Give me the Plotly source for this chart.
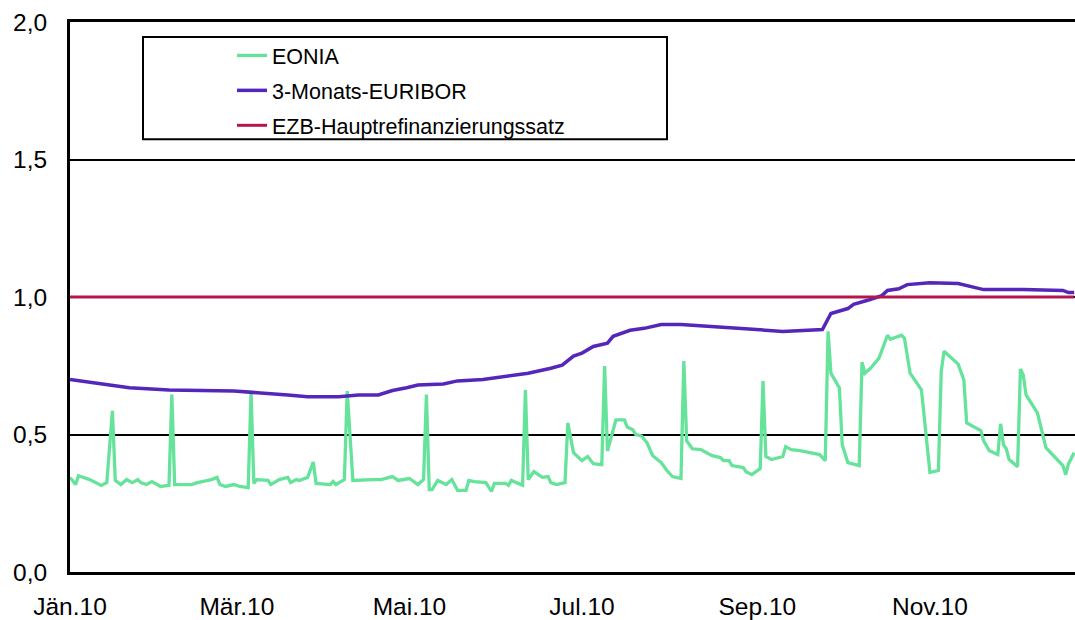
import plotly.graph_objects as go

# EONIA (daily rate, %), vertices
eonia_dates = [
    "2010-01-01", "2010-01-03", "2010-01-04", "2010-01-08", "2010-01-12", "2010-01-14", "2010-01-16",
    "2010-01-17", "2010-01-19", "2010-01-21", "2010-01-23", "2010-01-25", "2010-01-26", "2010-01-28",
    "2010-01-30", "2010-02-02", "2010-02-05", "2010-02-06", "2010-02-07", "2010-02-13", "2010-02-15",
    "2010-02-20", "2010-02-22", "2010-02-23", "2010-02-25", "2010-02-28", "2010-03-02", "2010-03-05",
    "2010-03-06", "2010-03-07", "2010-03-08", "2010-03-12", "2010-03-13", "2010-03-16", "2010-03-19",
    "2010-03-20", "2010-03-22", "2010-03-23", "2010-03-26", "2010-03-28", "2010-03-29", "2010-04-03",
    "2010-04-04", "2010-04-05", "2010-04-08", "2010-04-09", "2010-04-11", "2010-04-16", "2010-04-18",
    "2010-04-21", "2010-04-25", "2010-04-27", "2010-05-01", "2010-05-04", "2010-05-06", "2010-05-07",
    "2010-05-08", "2010-05-09", "2010-05-11", "2010-05-14", "2010-05-16", "2010-05-18", "2010-05-21",
    "2010-05-22", "2010-05-24", "2010-05-28", "2010-05-30", "2010-05-31", "2010-06-04", "2010-06-05",
    "2010-06-06", "2010-06-10", "2010-06-11", "2010-06-12", "2010-06-14", "2010-06-17", "2010-06-19",
    "2010-06-20", "2010-06-22", "2010-06-25", "2010-06-26", "2010-06-28", "2010-07-01", "2010-07-03",
    "2010-07-05", "2010-07-08", "2010-07-09", "2010-07-10", "2010-07-13", "2010-07-16", "2010-07-17",
    "2010-07-19", "2010-07-20", "2010-07-22", "2010-07-24", "2010-07-26", "2010-07-29", "2010-07-31",
    "2010-08-02", "2010-08-05", "2010-08-06", "2010-08-07", "2010-08-09", "2010-08-12", "2010-08-15",
    "2010-08-16", "2010-08-19", "2010-08-20", "2010-08-22", "2010-08-23", "2010-08-27", "2010-08-28",
    "2010-08-30", "2010-09-02", "2010-09-03", "2010-09-04", "2010-09-06", "2010-09-10", "2010-09-11",
    "2010-09-13", "2010-09-16", "2010-09-19", "2010-09-23", "2010-09-25", "2010-09-26", "2010-09-27",
    "2010-09-30", "2010-10-01", "2010-10-03", "2010-10-07", "2010-10-08", "2010-10-09", "2010-10-11",
    "2010-10-14", "2010-10-15", "2010-10-17", "2010-10-18", "2010-10-22", "2010-10-23", "2010-10-25",
    "2010-10-29", "2010-11-01", "2010-11-04", "2010-11-05", "2010-11-06", "2010-11-11", "2010-11-13",
    "2010-11-14", "2010-11-19", "2010-11-20", "2010-11-22", "2010-11-25", "2010-11-26", "2010-11-27",
    "2010-11-28", "2010-11-29", "2010-12-02", "2010-12-03", "2010-12-04", "2010-12-05", "2010-12-09",
    "2010-12-12", "2010-12-18", "2010-12-19", "2010-12-20", "2010-12-22",
]
eonia_values = [
    0.344, 0.318, 0.350, 0.336, 0.315, 0.325, 0.586,
    0.333, 0.318, 0.336, 0.325, 0.336, 0.325, 0.318,
    0.329, 0.311, 0.315, 0.645, 0.318, 0.318, 0.325,
    0.336, 0.344, 0.318, 0.311, 0.318, 0.311, 0.307,
    0.655, 0.322, 0.336, 0.333, 0.318, 0.336, 0.344,
    0.325, 0.336, 0.333, 0.344, 0.400, 0.322, 0.318,
    0.329, 0.318, 0.336, 0.658, 0.333, 0.336, 0.336,
    0.336, 0.347, 0.333, 0.340, 0.318, 0.336, 0.645,
    0.300, 0.300, 0.333, 0.318, 0.336, 0.297, 0.297,
    0.333, 0.329, 0.325, 0.293, 0.322, 0.322, 0.315,
    0.333, 0.315, 0.662, 0.336, 0.365, 0.344, 0.347,
    0.325, 0.318, 0.325, 0.542, 0.434, 0.405, 0.420,
    0.394, 0.390, 0.749, 0.440, 0.553, 0.553, 0.527,
    0.517, 0.500, 0.495, 0.470, 0.423, 0.398, 0.369,
    0.347, 0.340, 0.767, 0.477, 0.448, 0.445, 0.430,
    0.423, 0.416, 0.405, 0.405, 0.387, 0.380, 0.365,
    0.354, 0.376, 0.694, 0.420, 0.409, 0.420, 0.456,
    0.445, 0.441, 0.434, 0.427, 0.405, 0.875, 0.723,
    0.669, 0.463, 0.398, 0.387, 0.763, 0.723, 0.741,
    0.778, 0.807, 0.861, 0.846, 0.861, 0.850, 0.723,
    0.662, 0.362, 0.369, 0.730, 0.803, 0.756, 0.698,
    0.542, 0.514, 0.477, 0.441, 0.427, 0.539, 0.463,
    0.448, 0.409, 0.383, 0.738, 0.716, 0.644, 0.579,
    0.452, 0.387, 0.354, 0.394, 0.434,
]

# 3-Monats-EURIBOR (%)
euribor_dates = [
    "2010-01-01", "2010-01-12", "2010-01-22", "2010-02-05", "2010-02-28", "2010-03-19", "2010-03-26",
    "2010-04-06", "2010-04-13", "2010-04-20", "2010-04-25", "2010-04-30", "2010-05-04", "2010-05-13",
    "2010-05-18", "2010-05-27", "2010-06-07", "2010-06-12", "2010-06-20", "2010-06-24", "2010-06-28",
    "2010-07-01", "2010-07-05", "2010-07-10", "2010-07-12", "2010-07-18", "2010-07-23", "2010-07-29",
    "2010-08-05", "2010-08-19", "2010-09-02", "2010-09-10", "2010-09-24", "2010-09-27", "2010-10-03",
    "2010-10-05", "2010-10-10", "2010-10-15", "2010-10-17", "2010-10-21", "2010-10-24", "2010-11-01",
    "2010-11-11", "2010-11-20", "2010-12-04", "2010-12-18", "2010-12-20", "2010-12-22",
]
euribor_values = [
    0.700, 0.684, 0.670, 0.662, 0.658, 0.644, 0.637,
    0.637, 0.644, 0.644, 0.660, 0.670, 0.680, 0.684,
    0.695, 0.700, 0.716, 0.723, 0.741, 0.752, 0.785,
    0.796, 0.820, 0.832, 0.857, 0.879, 0.886, 0.900,
    0.900, 0.890, 0.882, 0.875, 0.882, 0.940, 0.958,
    0.973, 0.988, 1.005, 1.024, 1.030, 1.045, 1.052,
    1.049, 1.027, 1.027, 1.024, 1.016, 1.016,
]

# EZB-Hauptrefinanzierungssatz (%)
ezb_dates = ["2010-01-01", "2010-12-22"]
ezb_values = [1.0, 1.0]

tick_dates = ["2010-01-01", "2010-03-01", "2010-05-01", "2010-07-01", "2010-09-01", "2010-11-01"]
tick_labels = ["Jän.10", "Mär.10", "Mai.10", "Jul.10", "Sep.10", "Nov.10"]
y_ticks = [0.0, 0.5, 1.0, 1.5, 2.0]

FONT = "Liberation Sans, Arial, sans-serif"

W, H = 1075, 620
ML, MT, MB = 70, 22, 45
PW, PH = W - ML, H - MT - MB

fig = go.Figure()
fig.add_trace(go.Scatter(x=eonia_dates, y=eonia_values, mode="lines", name="EONIA",
                         line=dict(color="#66E39A", width=3.3), legendgroup="a"))
fig.add_trace(go.Scatter(x=euribor_dates, y=euribor_values, mode="lines", name="3-Monats-EURIBOR",
                         line=dict(color="#5526BA", width=3.5), legendgroup="b"))
fig.add_trace(go.Scatter(x=ezb_dates, y=ezb_values, mode="lines", name="EZB-Hauptrefinanzierungssatz",
                         line=dict(color="#B4174E", width=3), legendgroup="c"))

fig.update_layout(
    width=W, height=H,
    margin=dict(l=ML, r=0, t=MT, b=MB, pad=0),
    paper_bgcolor="white", plot_bgcolor="white",
    separators=",.",
    font=dict(family=FONT, size=24, color="black"),
    showlegend=True,
    legend=dict(x=(232 - ML) / PW, y=1 - 13 / PH, xanchor="left", yanchor="top",
                bgcolor="rgba(0,0,0,0)", borderwidth=0,
                font=dict(family=FONT, size=21.5, color="black"),
                tracegroupgap=4, itemwidth=30),
    xaxis=dict(
        type="date", range=["2010-01-01", "2010-12-22 07:00"],
        tickvals=tick_dates, ticktext=tick_labels,
        showgrid=False, zeroline=False,
        showline=True, linecolor="black", linewidth=2.5, mirror=True,
        ticks="", ticklabelstandoff=11,
        tickfont=dict(family=FONT, size=24.5, color="black"),
    ),
    yaxis=dict(
        range=[0, 2.0], tickvals=y_ticks, tickformat=".1f",
        showgrid=True, gridcolor="black", gridwidth=2,
        zeroline=False, showline=True, linecolor="black", linewidth=3,
        ticks="", ticklabelstandoff=15,
        tickfont=dict(family=FONT, size=24.5, color="black"),
    ),
    shapes=[dict(type="rect", xref="paper", yref="paper",
                 x0=(143 - ML) / PW, x1=(667 - ML) / PW,
                 y0=1 - (140 - MT) / PH, y1=1 - (37 - MT) / PH,
                 line=dict(color="black", width=2), fillcolor="rgba(0,0,0,0)", layer="above")],
)

fig.write_html("out.html", config={"displayModeBar": False},
               post_script="document.body.style.margin='0';")
